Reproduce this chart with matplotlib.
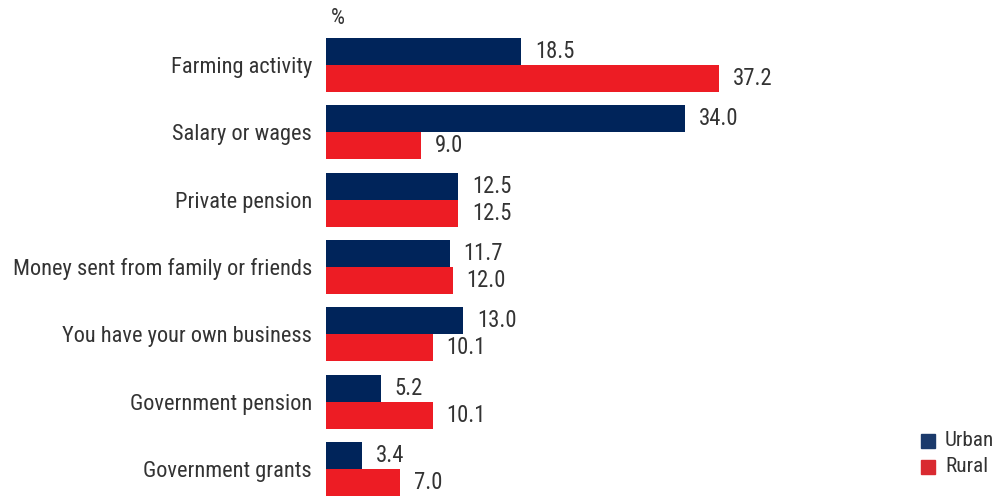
import matplotlib
matplotlib.use("Agg")
import matplotlib.pyplot as plt
from matplotlib.patches import Rectangle

categories = [
    "Farming activity",
    "Salary or wages",
    "Private pension",
    "Money sent from family or friends",
    "You have your own business",
    "Government pension",
    "Government grants",
]
urban = [18.5, 34.0, 12.5, 11.7, 13.0, 5.2, 3.4]
rural = [37.2, 9.0, 12.5, 12.0, 10.1, 10.1, 7.0]
series_names = ["Urban", "Rural"]

navy = "#00245a"
red = "#ed1c24"
text_color = "#333333"

plt.rcParams["font.family"] = ["Roboto Condensed", "DejaVu Sans"]

fig = plt.figure(figsize=(9.98, 4.96), dpi=100)
ax = fig.add_axes([326 / 998, 0, 574 / 998, 458 / 496])

h = 0.4
pos = list(range(len(categories)))
ax.barh([p - h / 2 for p in pos], urban, height=h, color=navy)
ax.barh([p + h / 2 for p in pos], rural, height=h, color=red)

for p, u, r in zip(pos, urban, rural):
    ax.annotate(f"{u:.1f}", (u, p - h / 2), xytext=(10, 0), textcoords="offset points",
                va="center", ha="left", fontsize=16.3, color=text_color)
    ax.annotate(f"{r:.1f}", (r, p + h / 2), xytext=(10, 0), textcoords="offset points",
                va="center", ha="left", fontsize=16.3, color=text_color)

ax.set_xlim(0, 574 / 10.565)
ax.set_ylim(len(categories) - 1 + h, -h)
ax.set_yticks(pos)
ax.set_yticklabels(categories, fontsize=16.1, color=text_color)
ax.tick_params(axis="y", length=0, pad=10)
ax.set_xticks([])
for s in ax.spines.values():
    s.set_visible(False)

fig.text(331 / 998, 1 - 19 / 496, "%", fontsize=16, color=text_color, va="center", ha="left")

# legend
leg_items = [(series_names[0], "#1b3a6b", 441), (series_names[1], "#d92a31", 467)]
for name, col, yc in leg_items:
    fig.patches.append(Rectangle((921 / 998, 1 - (yc + 7) / 496), 14 / 998, 14 / 496,
                                 transform=fig.transFigure, color=col))
    fig.text(945 / 998, 1 - yc / 496, name, fontsize=15.3, color=text_color, va="center", ha="left")

fig.savefig("out.png", dpi=100)
